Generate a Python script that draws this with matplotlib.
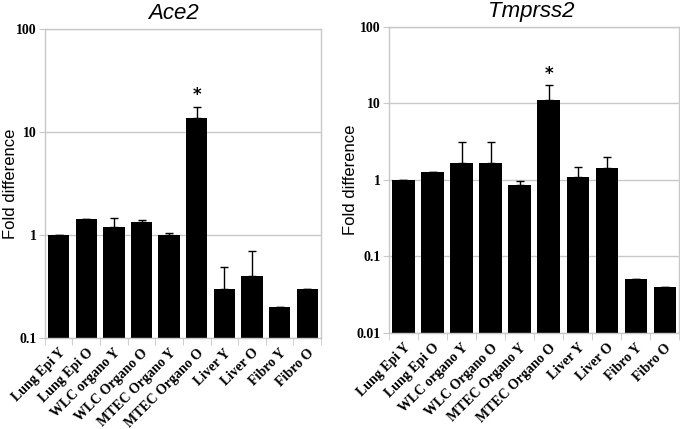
import matplotlib
matplotlib.use("Agg")
import matplotlib.pyplot as plt
import numpy as np

# categories shared by both panels
samples = ["Lung Epi Y", "Lung Epi O", "WLC organo Y", "WLC Organo O",
           "MTEC Organo Y", "MTEC Organo O", "Liver Y", "Liver O",
           "Fibro Y", "Fibro O"]

# Ace2 fold difference + upper error (top of bar)
ace2_vals = [1.0, 1.42, 1.21, 1.33, 1.0, 13.6, 0.297, 0.40, 0.199, 0.30]
ace2_err_top = [1.0, 1.42, 1.45, 1.40, 1.05, 17.6, 0.49, 0.70, 0.199, 0.30]

# Tmprss2 fold difference + upper error
tmp_vals = [1.0, 1.26, 1.66, 1.66, 0.85, 11.0, 1.10, 1.45, 0.050, 0.040]
tmp_err_top = [1.0, 1.26, 3.14, 3.14, 0.96, 17.5, 1.49, 1.97, 0.050, 0.040]

grid_col = "#c8c8c8"


def draw_panel(ax, vals, err_top, title, ylo, star_idx, ylab_x, title_x):
    x = np.arange(len(samples))
    upper = np.array(err_top) - np.array(vals)
    ax.set_yscale("log")
    ax.set_axisbelow(True)
    ax.yaxis.grid(True, color=grid_col, linewidth=1)
    ax.bar(x, vals, width=0.77, color="black", zorder=2)
    ax.errorbar(x, vals, yerr=[np.zeros(len(vals)), upper], fmt="none",
                ecolor="black", elinewidth=1, capsize=3, capthick=1, zorder=3)
    ax.text(star_idx, err_top[star_idx] * 1.06, "*", ha="center", va="bottom",
            fontsize=12, fontweight="bold")
    ax.set_ylim(ylo, 100)
    ax.set_xlim(-0.5, len(samples) - 0.5)

    for s in ax.spines.values():
        s.set_color(grid_col)
        s.set_linewidth(1)

    decades = [10.0 ** k for k in range(int(round(np.log10(ylo))), 3)]
    ax.set_yticks(decades)
    ax.set_yticklabels([("%g" % d) for d in decades],
                       fontfamily="Liberation Serif", fontweight="bold", fontsize=10)
    ax.yaxis.set_minor_locator(matplotlib.ticker.NullLocator())
    ax.tick_params(axis="y", which="major", direction="out", length=4,
                   color=grid_col, pad=2)

    ax.set_xticks(x)
    ax.set_xticklabels(samples, rotation=45, ha="right", rotation_mode="anchor",
                       fontfamily="Liberation Serif", fontweight="bold", fontsize=10)
    ax.tick_params(axis="x", which="major", length=0, pad=6)
    ax.set_xticks(np.arange(-0.5, len(samples)), minor=True)
    ax.tick_params(axis="x", which="minor", direction="out", length=5,
                   color=grid_col)

    ax.set_title(title, fontstyle="italic", fontfamily="Liberation Sans",
                 fontsize=16, pad=7, x=title_x)
    ax.set_ylabel("Fold difference", fontfamily="Liberation Sans", fontsize=12)
    ax.yaxis.set_label_coords(ylab_x, 0.5)


fig = plt.figure(figsize=(6.8, 4.29), dpi=100)
ax1 = fig.add_axes([0.066, 0.212, 0.406, 0.720])
ax2 = fig.add_axes([0.572, 0.224, 0.427, 0.713])

draw_panel(ax1, ace2_vals, ace2_err_top, "Ace2", 0.1, 5, -0.098, 0.465)
draw_panel(ax2, tmp_vals, tmp_err_top, "Tmprss2", 0.01, 5, -0.108, 0.49)

fig.savefig("out.png", dpi=100)
